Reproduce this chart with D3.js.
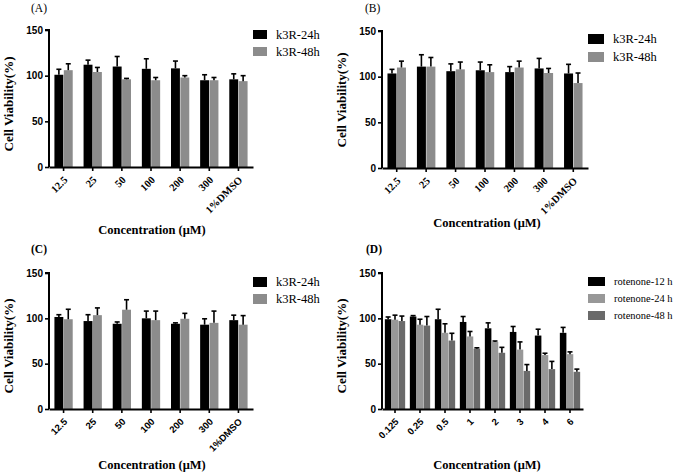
<!DOCTYPE html>
<html><head><meta charset="utf-8">
<script src="https://cdn.jsdelivr.net/npm/d3@7"></script>
<style>body{margin:0;background:#fff}svg{display:block}</style>
</head><body>
<script>
// ---------- data ----------
const concK3R = ["12.5","25","50","100","200","300","1%DMSO"];
const concRot = ["0.125","0.25","0.5","1","2","3","4","6"];
const yTicks = [0,50,100,150];

const seriesK3R = ["k3R-24h","k3R-48h"];
const seriesRot = ["rotenone-12 h","rotenone-24 h","rotenone-48 h"];

const A_24 = [101,112,110,107.5,108,95,96];
const A_24err = [6,5,11,11,8,6,6];
const A_48 = [106,104,96,95,98,95,94];
const A_48err = [7,5,1,3,2,3,6];

const B_24 = [103.5,111,106,107,105,109,103.5];
const B_24err = [4.5,13,8,9,6,11,10];
const B_48 = [110,111,108,105,110,104,93];
const B_48err = [7,10,8,8,7,5,11];

const C_24 = [101.5,97,94,100,94,93,98];
const C_24err = [2.5,7,2,8,1,6.5,5.5];
const C_48 = [99,103.5,109.5,98,99.5,95,93];
const C_48err = [11,8,11,10,6,13,10];

const D_12 = [99,102,99,96,89,85,81,84];
const D_12err = [2.5,1,11,6,6,6,7,6];
const D_24 = [98.5,93,84,80,74,65.5,59.5,60.5];
const D_24err = [5,6,10,5.5,1,8.5,2,2.5];
const D_48 = [97,92,75.5,66.5,62,42,44,41];
const D_48err = [5.5,10,8,1,6,7,8.5,3];

// ---------- drawing ----------
const svg = d3.select("body").append("svg").attr("width",675).attr("height",475);
const serif = "'Liberation Serif','Times New Roman',serif";
const sans = "'Liberation Sans',Arial,sans-serif";

const panels = [
  {label:"(A)", lx:31, ly:12, cats:concK3R, series:seriesK3R, vals:[A_24,A_48], errs:[A_24err,A_48err],
   colors:["#000","#8c8c8c"], x0:49, x1:253, y0:167, y1:30, pI:0.34, pO:0.17, tickFont:serif, tickSize:10.5,
   legX:253, legY:30, legW:14, legH:9, legStep:17, legFont:12.5, titleY:234, titleX:152, yTitleX:8, yTitleY:104},
  {label:"(B)", lx:365, ly:12, cats:concK3R, series:seriesK3R, vals:[B_24,B_48], errs:[B_24err,B_48err],
   colors:["#000","#8c8c8c"], x0:382, x1:588, y0:168, y1:31, pI:0.34, pO:0.17, tickFont:serif, tickSize:10.5,
   legX:588, legY:34, legW:16, legH:10, legStep:18, legFont:12.5, titleY:227, titleX:487, yTitleX:341, yTitleY:100},
  {label:"(C)", lx:31, ly:253, cats:concK3R, series:seriesK3R, vals:[C_24,C_48], errs:[C_24err,C_48err],
   colors:["#000","#8c8c8c"], x0:49, x1:253, y0:409, y1:273, pI:0.34, pO:0.17, tickFont:sans, tickSize:9.5,
   legX:253, legY:277, legW:14, legH:10, legStep:17, legFont:12.5, titleY:469, titleX:152, yTitleX:8, yTitleY:346},
  {label:"(D)", lx:366, ly:253, cats:concRot, series:seriesRot, vals:[D_12,D_24,D_48], errs:[D_12err,D_24err,D_48err],
   colors:["#000","#989898","#6a6a6a"], x0:382, x1:583, y0:409, y1:273, pI:0.16, pO:0.1, tickFont:sans, tickSize:9.5,
   legX:588, legY:277, legW:17, legH:9, legStep:17, legFont:10.5, titleY:469, titleX:487, yTitleX:341, yTitleY:346}
];

panels.forEach(p => {
  const g = svg.append("g");
  const x = d3.scaleBand().domain(p.cats).range([p.x0, p.x1]).paddingInner(p.pI).paddingOuter(p.pO);
  const xs = d3.scaleBand().domain(p.series).range([0, x.bandwidth()]).padding(0.05);
  const y = d3.scaleLinear().domain([0,150]).range([p.y0, p.y1]);

  // panel label
  g.append("text").attr("x",p.lx).attr("y",p.ly).attr("font-family",serif).attr("font-size",11.5)
    .attr("font-weight", p.label==="(C)"||p.label==="(D)" ? "bold" : "normal").text(p.label);

  // bars + error bars
  p.series.forEach((s,si) => {
    const vals = p.vals[si], errs = p.errs[si];
    const data = p.cats.map((c,i)=>({c, v:vals[i], e:errs[i]}));
    const bg = g.append("g");
    bg.selectAll("rect").data(data).join("rect")
      .attr("x", d => x(d.c) + xs(s)).attr("width", xs.bandwidth())
      .attr("y", d => y(d.v)).attr("height", d => y(0) - y(d.v))
      .attr("fill", p.colors[si]);
    const cx = d => x(d.c) + xs(s) + xs.bandwidth()/2;
    bg.selectAll("line.v").data(data).join("line").attr("class","v")
      .attr("x1",cx).attr("x2",cx).attr("y1",d=>y(d.v)).attr("y2",d=>y(d.v+d.e))
      .attr("stroke","#000").attr("stroke-width",1.6);
    bg.selectAll("line.c").data(data).join("line").attr("class","c")
      .attr("x1",d=>cx(d)-2.5).attr("x2",d=>cx(d)+2.5).attr("y1",d=>y(d.v+d.e)).attr("y2",d=>y(d.v+d.e))
      .attr("stroke","#000").attr("stroke-width",1.6);
  });

  // y axis
  const ya = g.append("g").attr("transform",`translate(${p.x0},0)`)
    .call(d3.axisLeft(y).tickValues(yTicks).tickSize(4).tickPadding(2));
  ya.select(".domain").attr("stroke-width",2).attr("d",`M-4,${y(150)}H0V${y(0)}`);
  ya.selectAll(".tick line").attr("stroke-width",1.6);
  ya.selectAll("text").attr("font-family",sans).attr("font-weight","bold").attr("font-size",10).attr("fill","#000");

  // x axis
  const xa = g.append("g").attr("transform",`translate(0,${p.y0})`)
    .call(d3.axisBottom(x).tickSize(4).tickSizeOuter(0));
  xa.select(".domain").attr("stroke-width",2);
  xa.selectAll(".tick line").attr("stroke-width",1.6);
  xa.selectAll("text").attr("font-family",p.tickFont).attr("font-weight","bold").attr("font-size",p.tickSize)
    .attr("fill","#000").attr("text-anchor","end").attr("x",0).attr("y",0).attr("dy","0.35em")
    .attr("transform","translate(2,11) rotate(-45)");

  // axis titles
  g.append("text").attr("x",p.titleX).attr("y",p.titleY).attr("text-anchor","middle")
    .attr("font-family",serif).attr("font-weight","bold").attr("font-size",12.5).text("Concentration (μM)");
  g.append("text").attr("transform",`translate(${p.yTitleX},${p.yTitleY}) rotate(-90)`)
    .attr("text-anchor","middle").attr("dy","0.35em")
    .attr("font-family",serif).attr("font-weight","bold").attr("font-size",13).text("Cell Viability(%)");

  // legend
  const lg = g.append("g");
  p.series.forEach((s,si) => {
    lg.append("rect").attr("x",p.legX).attr("y",p.legY + si*p.legStep).attr("width",p.legW).attr("height",p.legH)
      .attr("fill",p.colors[si]);
    lg.append("text").attr("x",p.legX + p.legW + 9).attr("y",p.legY + si*p.legStep + p.legH/2)
      .attr("dy","0.35em").attr("font-family",serif).attr("font-size",p.legFont).text(s);
  });
});
</script>
</body></html>
